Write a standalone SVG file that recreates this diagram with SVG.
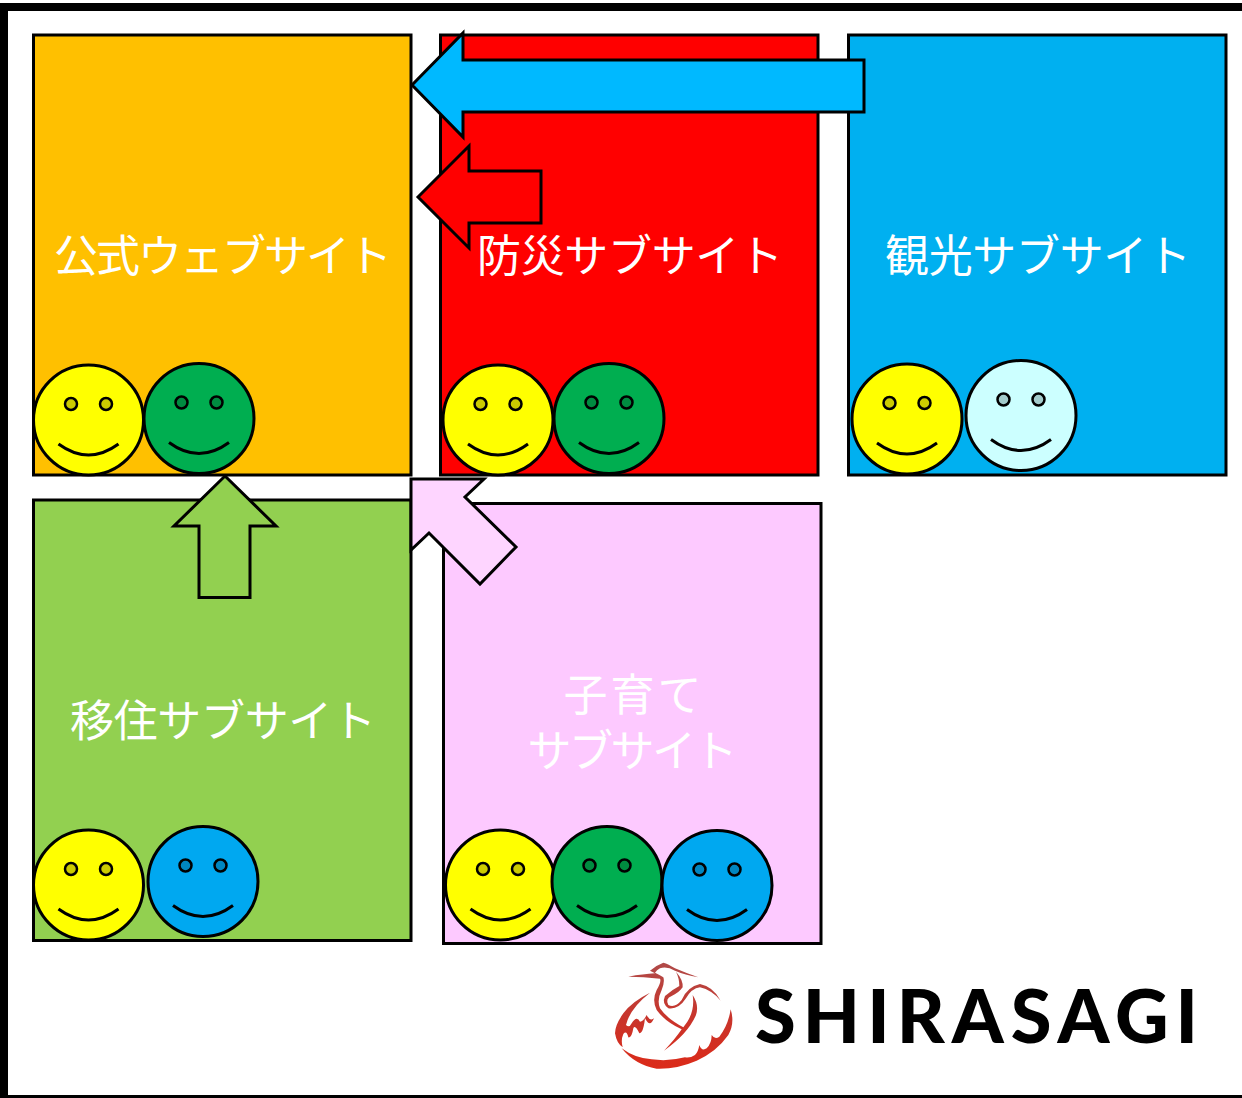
<svg xmlns="http://www.w3.org/2000/svg" width="1242" height="1098" viewBox="0 0 1242 1098">
<style>
.box{stroke:#000;stroke-width:3}
.lbl{font-family:"Noto Sans CJK JP","Noto Sans",sans-serif;font-size:44px;font-weight:400;fill:#fff;text-anchor:middle}
.arw{stroke:#000;stroke-width:3;stroke-linejoin:miter}
.face{stroke:#000;stroke-width:3}
.eye{stroke:#000;stroke-width:2.5}
.smile{fill:none;stroke:#000;stroke-width:3}
.y{fill:#ff0}.ye{fill:#cc0}
.g{fill:#00ae50}.ge{fill:#008b40}
.b{fill:#00a8f0}.be{fill:#0086c0}
.c{fill:#ccffff}.ce{fill:#a3cccc}
.logo{fill:url(#red)}
</style>
<defs>
<path id="sm" class="smile" d="M-30 24Q0 46 30 24"/>
<linearGradient id="red" gradientUnits="userSpaceOnUse" x1="0" y1="40" x2="0" y2="360"><stop offset="0" stop-color="#b04a48"/><stop offset=".5" stop-color="#c8352c"/><stop offset="1" stop-color="#dc2a18"/></linearGradient>
</defs>
<rect x="0" y="0" width="1242" height="1098" fill="#fff"/>
<path d="M4 1098V7H1242" fill="none" stroke="#000" stroke-width="8"/>
<path d="M0 1096.500H1242" fill="none" stroke="#000" stroke-width="3"/>

<g id="node-official"><rect class="box" x="33.500" y="35" width="377.500" height="440" fill="#ffc000"/><text class="lbl" x="223" y="272" textLength="338">公式ウェブサイト</text></g>
<g id="node-bosai"><rect class="box" x="440.500" y="35" width="377.500" height="440" fill="#f00"/><text class="lbl" x="630" y="272" textLength="306">防災サブサイト</text></g>
<g id="node-kanko"><rect class="box" x="848.500" y="35" width="377.500" height="440" fill="#00b0f0"/><text class="lbl" x="1038" y="272" textLength="306">観光サブサイト</text></g>
<g id="node-iju"><rect class="box" x="33.500" y="500" width="377.500" height="440.500" fill="#92d050"/><text class="lbl" x="223" y="737" textLength="306">移住サブサイト</text></g>
<g id="node-kosodate"><rect class="box" x="443.500" y="503.500" width="377.500" height="440" fill="#fdc9ff"/><text class="lbl" x="632.500" y="711" textLength="138">子育て</text><text class="lbl" x="632.500" y="767" textLength="210">サブサイト</text></g>

<g id="connectors">
<path class="arw" fill="#00b9ff" d="M412 85L463 33V60H864V112H463V137Z"/>
<path class="arw" fill="#f00" d="M418 197L469 146V171H541V223H469V248Z"/>
<path class="arw" fill="#92d050" d="M225 476L276 526H250V597.500H199V526H174Z"/>
<path class="arw" fill="#fed5ff" d="M411 479H484L465 497L516 547L480 584L429 533L411 550Z"/>
</g>

<g id="faces-official">
<g transform="translate(88.500 420)"><circle class="face y" r="55"/><circle class="eye ye" cx="-17.500" cy="-16" r="6"/><circle class="eye ye" cx="17.500" cy="-16" r="6"/><use href="#sm"/></g>
<g transform="translate(199 418.500)"><circle class="face g" r="55"/><circle class="eye ge" cx="-17.500" cy="-16" r="6"/><circle class="eye ge" cx="17.500" cy="-16" r="6"/><use href="#sm"/></g>
</g>
<g id="faces-bosai">
<g transform="translate(498 420)"><circle class="face y" r="55"/><circle class="eye ye" cx="-17.500" cy="-16" r="6"/><circle class="eye ye" cx="17.500" cy="-16" r="6"/><use href="#sm"/></g>
<g transform="translate(609 418.500)"><circle class="face g" r="55"/><circle class="eye ge" cx="-17.500" cy="-16" r="6"/><circle class="eye ge" cx="17.500" cy="-16" r="6"/><use href="#sm"/></g>
</g>
<g id="faces-kanko">
<g transform="translate(907 419)"><circle class="face y" r="55"/><circle class="eye ye" cx="-17.500" cy="-16" r="6"/><circle class="eye ye" cx="17.500" cy="-16" r="6"/><use href="#sm"/></g>
<g transform="translate(1021 415.500)"><circle class="face c" r="55"/><circle class="eye ce" cx="-17.500" cy="-16" r="6"/><circle class="eye ce" cx="17.500" cy="-16" r="6"/><use href="#sm"/></g>
</g>
<g id="faces-iju">
<g transform="translate(88.500 885)"><circle class="face y" r="55"/><circle class="eye ye" cx="-17.500" cy="-16" r="6"/><circle class="eye ye" cx="17.500" cy="-16" r="6"/><use href="#sm"/></g>
<g transform="translate(203 881.500)"><circle class="face b" r="55"/><circle class="eye be" cx="-17.500" cy="-16" r="6"/><circle class="eye be" cx="17.500" cy="-16" r="6"/><use href="#sm"/></g>
</g>
<g id="faces-kosodate">
<g transform="translate(500.500 885)"><circle class="face y" r="55"/><circle class="eye ye" cx="-17.500" cy="-16" r="6"/><circle class="eye ye" cx="17.500" cy="-16" r="6"/><use href="#sm"/></g>
<g transform="translate(607 881.500)"><circle class="face g" r="55"/><circle class="eye ge" cx="-17.500" cy="-16" r="6"/><circle class="eye ge" cx="17.500" cy="-16" r="6"/><use href="#sm"/></g>
<g transform="translate(717 885.500)"><circle class="face b" r="55"/><circle class="eye be" cx="-17.500" cy="-16" r="6"/><circle class="eye be" cx="17.500" cy="-16" r="6"/><use href="#sm"/></g>
</g>

<g id="logo">
<g transform="translate(600 950) scale(.3333)">
<path class="logo" d="M85 80Q130 72 165 70L150 62Q170 45 190 38Q205 42 225 55Q260 70 295 82Q255 75 225 62Q200 48 180 55Q170 60 165 68Q180 75 190 82Q195 95 185 120Q170 150 180 175Q200 205 250 232L262 215Q285 180 278 135Q298 165 288 195Q265 250 192 302Q225 268 245 238Q195 215 170 180Q155 150 170 120Q185 95 180 86Q130 80 85 80Z"/>
<path class="logo" d="M228 65Q250 90 248 112Q235 130 215 138Q195 145 205 165Q225 175 245 150Q262 110 300 102Q340 110 362 152Q335 120 300 112Q275 115 258 145Q235 180 205 175Q185 160 195 138Q215 120 238 108Q238 85 228 65Z"/>
<path class="logo" d="M150 128Q95 155 70 190Q45 225 45 250Q50 280 68 292Q62 270 70 252Q80 240 85 262Q95 265 100 235Q105 222 118 250Q130 250 135 205Q150 235 162 205Q150 215 140 195Q130 215 120 215Q110 195 95 220Q88 235 78 225Q90 175 150 128Z"/>
<path class="logo" d="M392 178Q405 220 385 255Q350 305 290 332Q230 358 170 356Q105 345 65 295Q105 325 155 328Q205 335 255 322Q270 325 285 315Q295 305 298 285Q305 305 320 295Q335 280 335 255Q345 270 358 260Q385 225 392 178Z"/>
</g>
<text x="755" y="1042.500" font-family="Lato,'Noto Sans',sans-serif" font-weight="900" font-size="74" fill="#000" textLength="443" lengthAdjust="spacing">SHIRASAGI</text>
</g>
</svg>
